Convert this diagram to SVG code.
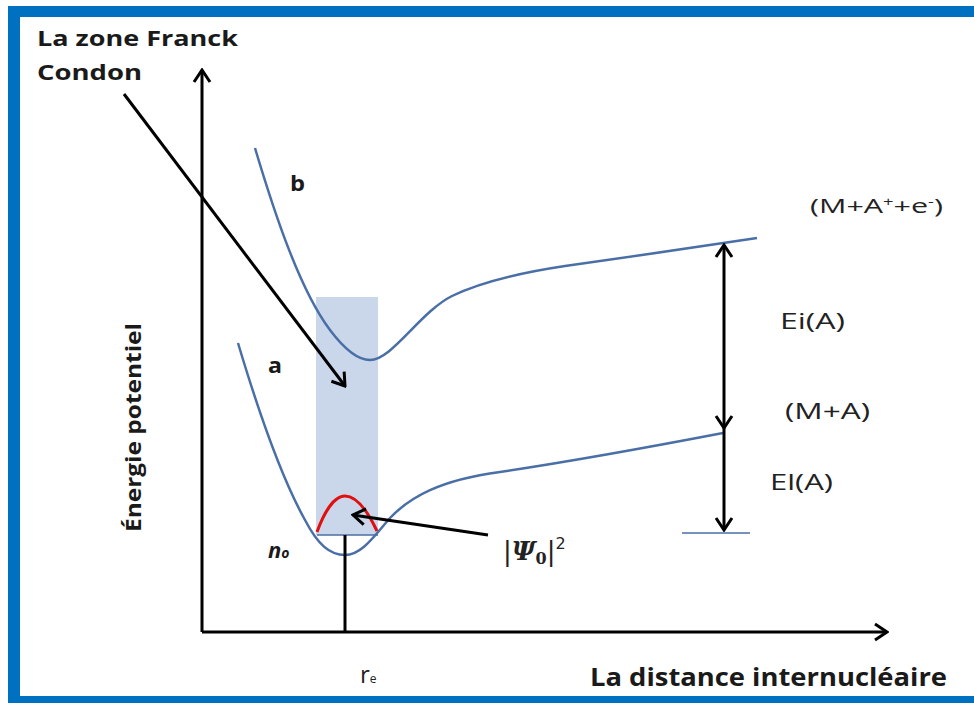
<svg xmlns="http://www.w3.org/2000/svg" width="974" height="703" viewBox="0 0 974 703">
<style>
.bold{font-family:"Open Sans","Liberation Sans",sans-serif;font-weight:bold;fill:#1a1a1a}
.reg{font-family:"Open Sans","Liberation Sans",sans-serif;fill:#222}
.curve{fill:none;stroke:#4a6fa6;stroke-width:2.5}
.ax{fill:none;stroke:#000;stroke-width:3}
.thin{fill:none;stroke:#4a6fa6;stroke-width:1.5}
</style>
<defs>
<marker id="head" viewBox="0 0 16 20" refX="14" refY="10" markerWidth="16" markerHeight="20" markerUnits="userSpaceOnUse" orient="auto-start-reverse">
<path d="M2,2 L14,10 L2,18" fill="none" stroke="#000" stroke-width="3"/>
</marker>
</defs>
<rect width="974" height="703" fill="#fff"/>
<g id="border" fill="#0070c0">
<rect x="8" y="6" width="966" height="11"/>
<rect x="8" y="6" width="12" height="697"/>
<rect x="8" y="696" width="966" height="7"/>
</g>
<g id="zone">
<rect x="316" y="297" width="62" height="238" fill="#cad6e9"/>
<line class="thin" x1="317" y1="535" x2="378" y2="535"/>
</g>
<g id="curve-b">
<path class="curve" d="M255,148 C275,215 300,290 330,330 C345,350 358,360 370,360 C392,360 420,312 452,296 C485,280 525,272 565,266 C630,257 690,248 757,238"/>
</g>
<g id="curve-a">
<path class="curve" d="M238,343 C255,400 280,475 305,520 C318,545 330,555 345,555 C362,555 375,535 390,518 C410,497 440,480 500,472 C560,463 650,447 723,433"/>
</g>
<g id="psi-curve">
<path d="M317,532 C325,510 335,496 345,496 C357,496 368,512 377,531" fill="none" stroke="#e01010" stroke-width="3"/>
</g>
<g id="baseline-level">
<line class="thin" x1="682" y1="533" x2="750" y2="533"/>
</g>
<g id="connectors">
<line class="ax" x1="202" y1="632" x2="202" y2="70" marker-end="url(#head)"/>
<line class="ax" x1="202" y1="632" x2="887" y2="632" marker-end="url(#head)"/>
<line class="ax" x1="345" y1="535" x2="345" y2="632"/>
<line class="ax" x1="124" y1="94" x2="345" y2="386" marker-end="url(#head)"/>
<line class="ax" x1="488" y1="535" x2="353" y2="515" marker-end="url(#head)"/>
<line class="ax" x1="724" y1="245" x2="724" y2="428" marker-start="url(#head)" marker-end="url(#head)"/>
<line class="ax" x1="724" y1="428" x2="724" y2="530" marker-end="url(#head)"/>
</g>
<g id="title">
<text class="bold" x="37" y="46" font-size="22" textLength="201" lengthAdjust="spacingAndGlyphs">La zone Franck</text>
<text class="bold" x="37" y="80" font-size="22" textLength="105" lengthAdjust="spacingAndGlyphs">Condon</text>
</g>
<g id="label-b"><text class="bold" x="290" y="191" font-size="22" textLength="15" lengthAdjust="spacingAndGlyphs">b</text></g>
<g id="label-a"><text class="bold" x="268" y="373" font-size="21" textLength="14" lengthAdjust="spacingAndGlyphs">a</text></g>
<g id="y-label"><text class="bold" transform="translate(141,532) rotate(-90)" font-size="21" textLength="209" lengthAdjust="spacingAndGlyphs">Énergie potentiel</text></g>
<g id="x-label"><text class="bold" x="590" y="686" font-size="25" textLength="357" lengthAdjust="spacingAndGlyphs">La distance internucléaire</text></g>
<g id="re-label"><text class="reg" x="360" y="683" font-size="24">r<tspan font-size="12">e</tspan></text></g>
<g id="n0-label"><text class="bold" x="268" y="558" font-size="22" font-style="italic">n<tspan font-size="14">o</tspan></text></g>
<g id="ion-label"><text class="reg" x="810" y="213" font-size="20" textLength="133" lengthAdjust="spacingAndGlyphs">(M+A<tspan font-size="12" dy="-7">+</tspan><tspan dy="7">+e</tspan><tspan font-size="12" dy="-7">-</tspan><tspan dy="7">)</tspan></text></g>
<g id="ei-label"><text class="reg" x="780" y="329" font-size="22" textLength="65" lengthAdjust="spacingAndGlyphs">Ei(A)</text></g>
<g id="ma-label"><text class="reg" x="785" y="419" font-size="22" textLength="85" lengthAdjust="spacingAndGlyphs">(M+A)</text></g>
<g id="el-label"><text class="reg" x="770" y="490" font-size="22" textLength="63" lengthAdjust="spacingAndGlyphs">El(A)</text></g>
<g id="psi-label"><text x="503" y="560" font-family="'DejaVu Serif','Liberation Serif',serif" font-size="26" fill="#222"><tspan font-family="'DejaVu Sans',sans-serif">|</tspan><tspan font-weight="bold" font-style="italic">Ψ</tspan><tspan font-weight="bold" font-size="16" dy="4">0</tspan><tspan dy="-4" font-family="'DejaVu Sans',sans-serif">|</tspan><tspan font-size="16" dy="-11" font-family="'DejaVu Sans',sans-serif">2</tspan></text></g>
</svg>
